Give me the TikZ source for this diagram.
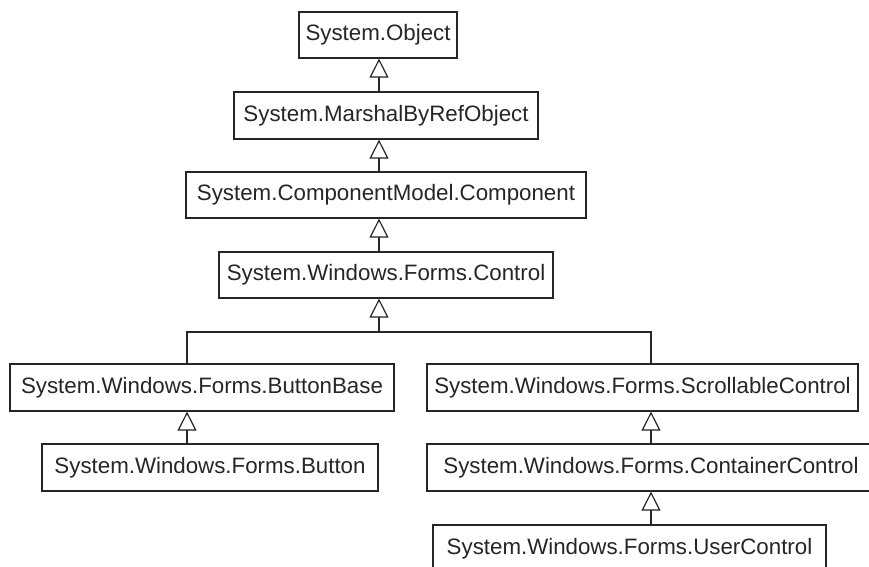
\documentclass[tikz,border=0pt]{standalone}
\usepackage{fontspec}
\setmainfont{Liberation Sans}
\usetikzlibrary{arrows.meta}
\newcommand{\cls}[1]{\textcolor{black!85}{#1}}
\tikzset{
    b1/.style={draw=black!85, line width=1.2pt, rectangle, inner sep=0pt, font=\fontsize{22.3}{26}\selectfont},
    e1/.style={draw=black!85, -{Triangle[open, length=19pt, width=19pt]}, line width=1.2pt},
    e0/.style={draw=black!85, line width=1.2pt}
}
\begin{document}
\begin{tikzpicture}[x=1pt, y=-1pt]

\useasboundingbox (0,0) rectangle (869,566);
\clip (0,0) rectangle (869,566);
\fill[white] (0,0) rectangle (869,566);

% Rank 1
\node[b1, minimum width=158pt, minimum height=46pt] (R1N1) at (378, 35.0) {\cls{System.Object}};

% Rank 2
\node[b1, minimum width=304pt, minimum height=47pt] (R2N1) at (386, 115.5) {\cls{System.MarshalByRefObject}};

% Rank 3
\node[b1, minimum width=400pt, minimum height=46pt] (R3N1) at (386, 195.0) {\cls{System.ComponentModel.Component}};

% Rank 4
\node[b1, minimum width=334pt, minimum height=46pt] (R4N1) at (386, 275.0) {\cls{System.Windows.Forms.Control}};

% Rank 5 (two branches)
\node[b1, minimum width=384pt, minimum height=47pt] (R5N1) at (202, 387.5) {\cls{System.Windows.Forms.ButtonBase}};
\node[b1, minimum width=431pt, minimum height=47pt] (R5N2) at (642.5, 387.5) {\cls{System.Windows.Forms.ScrollableControl}};

% Rank 6
\node[b1, minimum width=336pt, minimum height=47pt] (R6N1) at (210, 467.5) {\cls{System.Windows.Forms.Button}};
\node[b1, minimum width=448pt, minimum height=47pt] (R6N2) at (651, 467.5) {\cls{System.Windows.Forms.ContainerControl}};

% Rank 7 (runs off the bottom edge)
\node[b1, minimum width=393pt, minimum height=47pt] (R7N1) at (629.5, 548.5) {\cls{System.Windows.Forms.UserControl}};

% Columns of the connectors
\coordinate (spine) at (379, 0);
\coordinate (bus) at (379, 332);
\coordinate (lcol) at (187, 0);
\coordinate (rcol) at (651, 0);

% Rank 2 -> 1, 3 -> 2, 4 -> 3
\draw[e1] (spine |- R2N1.north) -- (spine |- R1N1.south);
\draw[e1] (spine |- R3N1.north) -- (spine |- R2N1.south);
\draw[e1] (spine |- R4N1.north) -- (spine |- R3N1.south);

% Rank 5 -> 4
\draw[e0] (lcol |- R5N1.north) -- (lcol |- bus) -- (rcol |- bus) -- (rcol |- R5N2.north);
\draw[e1] (bus) -- (spine |- R4N1.south);

% Rank 6 -> 5
\draw[e1] (lcol |- R6N1.north) -- (lcol |- R5N1.south);
\draw[e1] (rcol |- R6N2.north) -- (rcol |- R5N2.south);

% Rank 7 -> 6
\draw[e1] (rcol |- R7N1.north) -- (rcol |- R6N2.south);

\end{tikzpicture}
\end{document}
